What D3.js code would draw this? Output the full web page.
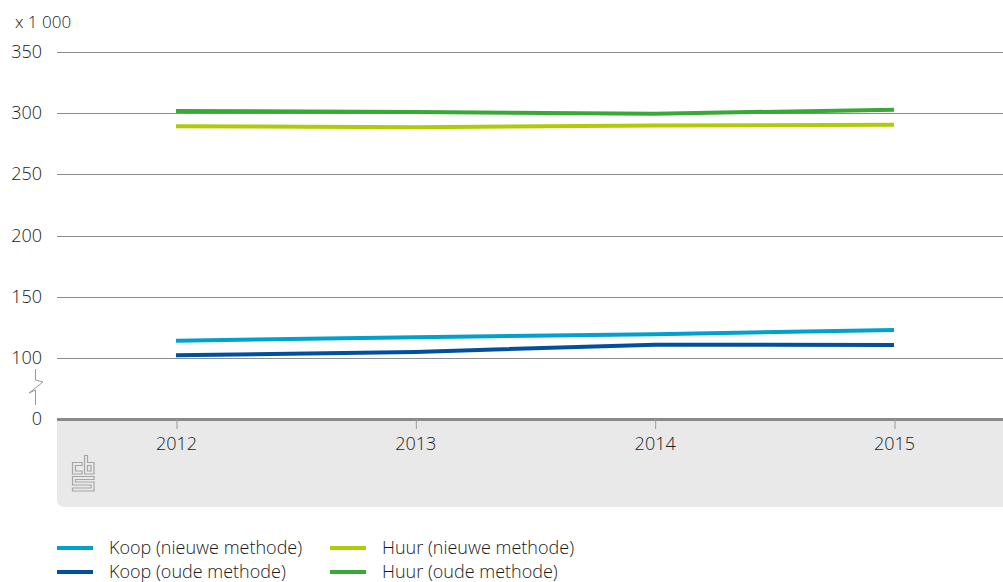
<!DOCTYPE html>
<html>
<head>
<meta charset="utf-8">
<script src="https://cdn.jsdelivr.net/npm/d3@7"></script>
<style>
  html, body { margin: 0; padding: 0; background: #fff; }
  svg { display: block; font-family: "Open Sans", "DejaVu Sans", sans-serif; font-weight: 300; }
</style>
</head>
<body>
<svg id="chart" width="1003" height="582"></svg>
<script>
// Woningvoorraad naar eigendom, x 1 000
const years = ["2012", "2013", "2014", "2015"];
const koopNieuw = [114.1, 117.0, 119.4, 122.9];
const koopOud   = [102.2, 105.0, 110.9, 110.6];
const huurNieuw = [289.4, 288.6, 290.0, 290.5];
const huurOud   = [301.8, 301.0, 299.6, 302.9];
const yTicks = [0, 100, 150, 200, 250, 300, 350];
const seriesNames = ["Koop (nieuwe methode)", "Koop (oude methode)", "Huur (nieuwe methode)", "Huur (oude methode)"];
const seriesColors = ["#00a1cd", "#0050a0", "#afcb05", "#38a935"];

const series = [
  { name: seriesNames[0], values: koopNieuw, color: seriesColors[0] },
  { name: seriesNames[1], values: koopOud,   color: seriesColors[1] },
  { name: seriesNames[2], values: huurNieuw, color: seriesColors[2] },
  { name: seriesNames[3], values: huurOud,   color: seriesColors[3] }
];

const FS = 18;
const TXT = "#1a1a1a";
const svg = d3.select("#chart");
const left = 57, right = 1003, axisY = 419, panelBottom = 507;

// Broken value axis: 0 sits one step below 100
const y = d3.scaleLinear().domain([0, 100, 350]).range([axisY, 358, 52]);
const x = d3.scalePoint().domain(years).range([176, 894]);

// Grey panel under the category axis
const r = 8;
svg.append("path")
  .attr("d", `M${left},${axisY} H${right} V${panelBottom} H${left + r} Q${left},${panelBottom} ${left},${panelBottom - r} Z`)
  .attr("fill", "#e9e9e9");

// Gridlines and value labels
const grid = svg.append("g");
yTicks.filter(d => d > 0).forEach(t => {
  grid.append("line")
    .attr("x1", left).attr("x2", right)
    .attr("y1", Math.round(y(t)) + 0.5).attr("y2", Math.round(y(t)) + 0.5)
    .attr("stroke", "#8c8c8c").attr("stroke-width", 1);
});
yTicks.forEach(t => {
  svg.append("text")
    .attr("x", 42).attr("y", y(t) + 6)
    .attr("text-anchor", "end")
    .attr("font-size", FS).attr("fill", TXT)
    .text(t);
});
svg.append("text")
  .attr("x", 15).attr("y", 28)
  .attr("font-size", FS - 1).attr("fill", TXT)
  .text("x 1 000");

// Axis break symbol
svg.append("path")
  .attr("d", "M35.5,369 V380 L43,382 L29,393 L35.5,390 V405")
  .attr("fill", "none").attr("stroke", "#999").attr("stroke-width", 1);

// Category axis
svg.append("line")
  .attr("x1", left).attr("x2", right)
  .attr("y1", axisY + 0.5).attr("y2", axisY + 0.5)
  .attr("stroke", "#8a8a8a").attr("stroke-width", 3);
const xAxis = d3.axisBottom(x).tickSize(10).tickPadding(8);
const gx = svg.append("g").attr("transform", `translate(0,${axisY})`).call(xAxis);
gx.select(".domain").remove();
gx.selectAll(".tick line").attr("stroke", "#999").attr("transform", "translate(0.5,0)");
gx.selectAll(".tick text")
  .attr("font-size", FS).attr("fill", TXT)
  .attr("font-weight", 300)
  .attr("font-family", "\"Open Sans\", \"DejaVu Sans\", sans-serif");

// Logo mark in the panel
const logo = svg.append("g").attr("fill", "none").attr("stroke", "#a6a6a6").attr("stroke-width", 1.2);
logo.append("path").attr("d", "M82,462.5 H72.5 V474 H82 V471 H75.5 V465.5 H82 Z");
logo.append("path").attr("d", "M84.5,455.5 H87.5 V462.5 H94 V474 H84.5 Z M87.5,465.5 V471 H91 V465.5 Z");
logo.append("path").attr("d", "M72.5,476.5 H94 V479.5 H75.5 V482 H94 V491 H72.5 V488 H91 V485 H72.5 Z");

// Lines
const line = d3.line().x((d, i) => x(years[i])).y(d => y(d));
svg.append("g").selectAll("path")
  .data(series)
  .join("path")
  .attr("d", d => line(d.values))
  .attr("fill", "none")
  .attr("stroke", d => d.color)
  .attr("stroke-width", 4);

// Legend
const legend = svg.append("g");
series.forEach((s, i) => {
  const col = Math.floor(i / 2), row = i % 2;
  const lx = 57 + col * 273, ly = 548 + row * 24;
  legend.append("line")
    .attr("x1", lx).attr("x2", lx + 36)
    .attr("y1", ly).attr("y2", ly)
    .attr("stroke", s.color).attr("stroke-width", 4);
  legend.append("text")
    .attr("x", lx + 52).attr("y", ly + 6)
    .attr("font-size", FS).attr("fill", TXT)
    .text(s.name);
});
</script>
</body>
</html>
